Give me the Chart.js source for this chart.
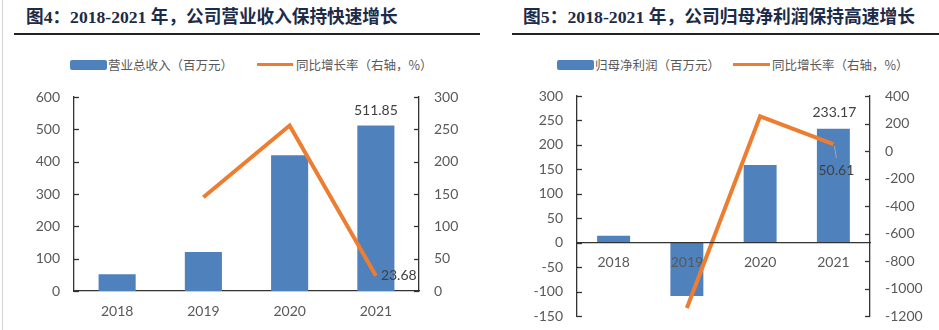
<!DOCTYPE html>
<html>
<head>
<meta charset="utf-8">
<script src="https://cdn.jsdelivr.net/npm/chart.js@4.4.1/dist/chart.umd.min.js"></script>
<style>
body{margin:0;width:939px;height:330px;position:relative;background:#fff;overflow:hidden;font-family:"Noto Sans CJK SC",sans-serif;}
.edge{position:absolute;left:2px;top:0;width:1px;height:330px;background:#d4d4d4;}
.title{position:absolute;top:4px;font-family:"Liberation Serif","Noto Sans CJK SC",serif;font-weight:bold;font-size:19px;color:#1c2b48;white-space:nowrap;line-height:26px;}
.rule{position:absolute;top:33px;height:2px;background:#222;}
.lg{position:absolute;top:57px;font-size:12.5px;color:#595959;line-height:16px;white-space:nowrap;}
.sw{position:absolute;}
canvas{position:absolute;top:80px;}
</style>
</head>
<body>
<div class="edge"></div>

<div class="title" id="t1" style="left:26px">图4：2018-2021 年，公司营业收入保持快速增长</div>
<div class="rule" style="left:14px;width:466px"></div>
<div class="title" id="t2" style="left:523px">图5：2018-2021 年，公司归母净利润保持高速增长</div>
<div class="rule" style="left:512px;width:427px"></div>

<!-- 图例 -->
<div class="sw" style="left:70px;top:60px;width:37px;height:10px;background:#4f81bd;border-radius:2px"></div>
<div class="lg" style="left:108px">营业总收入（百万元）</div>
<div class="sw" style="left:257px;top:63px;width:36px;height:3px;background:#ed7d31"></div>
<div class="lg" style="left:296px">同比增长率（右轴，%）</div>

<div class="sw" style="left:557px;top:60px;width:37px;height:10px;background:#4f81bd;border-radius:2px"></div>
<div class="lg" style="left:595px">归母净利润（百万元）</div>
<div class="sw" style="left:733px;top:63px;width:37px;height:3px;background:#ed7d31"></div>
<div class="lg" style="left:772px">同比增长率（右轴，%）</div>

<canvas id="c1" width="470" height="250" style="left:0"></canvas>
<canvas id="c2" width="469" height="250" style="left:470px"></canvas>

<script>
// --- DATI ---
const years = ['2018', '2019', '2020', '2021'];

const revenue = [52, 121, 420, 511.85];          // 营业总收入（百万元）
const revenueGrowth = [null, 145, 256, 23.68];   // 同比增长率 %
const revLeftTicks = [0, 100, 200, 300, 400, 500, 600];
const revRightTicks = [0, 50, 100, 150, 200, 250, 300];

const profit = [14, -109, 159, 233.17];          // 归母净利润（百万元）
const profitGrowth = [null, -1142, 252, 50.61];  // 同比增长率 %
const profLeftTicks = [-150, -100, -50, 0, 50, 100, 150, 200, 250, 300];
const profRightTicks = [-1200, -1000, -800, -600, -400, -200, 0, 200, 400];

const BLUE = '#4f81bd';
const ORANGE = '#ed7d31';
const AXIS = '#333333';
const TICK = '#595959';

Chart.defaults.font.family = 'Lato, "Noto Sans", sans-serif';
Chart.defaults.font.size = 14;
Chart.defaults.color = TICK;

// --- titoli: adatta la larghezza a quella del riferimento ---
function fitTitle(id, target) {
  const el = document.getElementById(id);
  const w = el.getBoundingClientRect().width;
  if (w > 0) el.style.fontSize = (19 * target / w).toFixed(2) + 'px';
}
fitTitle('t1', 372);
fitTitle('t2', 392);

// --- PLUGIN: tacche interne + etichette dati ---
const extras = {
  id: 'extras',
  afterDraw(chart, args, opts) {
    const ctx = chart.ctx;
    ctx.save();
    ctx.strokeStyle = AXIS;
    ctx.lineWidth = 1.3;
    ['y', 'y1'].forEach(id => {
      const s = chart.scales[id];
      const x = id === 'y' ? s.right : s.left;
      const dir = id === 'y' ? 1 : -1;
      s.ticks.forEach(t => {
        const y = Math.round(s.getPixelForValue(t.value)) + 0.5;
        ctx.beginPath();
        ctx.moveTo(x, y);
        ctx.lineTo(x + dir * 5, y);
        ctx.stroke();
      });
    });
    ctx.restore();

    (opts.labels || []).forEach(l => {
      const el = chart.getDatasetMeta(l.ds).data[l.i];
      const v = chart.data.datasets[l.ds].data[l.i];
      ctx.save();
      ctx.font = '14px Lato, sans-serif';
      ctx.fillStyle = '#404040';
      ctx.textAlign = l.align || 'center';
      ctx.textBaseline = 'middle';
      if (l.leader) {
        ctx.strokeStyle = '#a6a6a6';
        ctx.lineWidth = 1;
        ctx.beginPath();
        ctx.moveTo(el.x + 1, el.y + 2);
        ctx.lineTo(el.x + 3, el.y + 14);
        ctx.stroke();
      }
      ctx.fillText(v.toFixed(2), el.x + l.dx, el.y + l.dy);
      ctx.restore();
    });
  }
};

function setTicks(arr) {
  return s => { s.ticks = arr.map(v => ({value: v})); };
}

function yAxis(pos, ticks, width, pad) {
  return {
    position: pos,
    min: ticks[0],
    max: ticks[ticks.length - 1],
    afterBuildTicks: setTicks(ticks),
    afterFit: s => { s.width = width; s.paddingTop = 0; s.paddingBottom = 0; },
    grid: {display: false, drawTicks: false},
    border: {color: AXIS, width: 1.3},
    ticks: {color: TICK, padding: pad, font: {size: 14}, callback: v => String(v)}
  };
}

// --- GRAFICO 1: 营业总收入 ---
new Chart(document.getElementById('c1'), {
  data: {
    labels: years,
    datasets: [
      {type: 'line', data: revenueGrowth, yAxisID: 'y1', borderColor: ORANGE, borderWidth: 4,
       pointRadius: 0, tension: 0, order: 0},
      {type: 'bar', data: revenue, yAxisID: 'y', backgroundColor: BLUE,
       categoryPercentage: 1, barPercentage: 0.43, order: 1}
    ]
  },
  options: {
    responsive: false,
    animation: false,
    layout: {padding: {top: 17, left: 0, right: 0, bottom: 0}},
    plugins: {
      legend: {display: false},
      tooltip: {enabled: false},
      extras: {labels: [
        {ds: 1, i: 3, dx: 0, dy: -15},
        {ds: 0, i: 3, dx: 5, dy: 0, align: 'left'}
      ]}
    },
    scales: {
      x: {
        afterFit: s => { s.height = 39; s.paddingLeft = 0; s.paddingRight = 0; },
        grid: {display: false, drawTicks: false},
        border: {color: AXIS, width: 1.3},
        ticks: {color: TICK, padding: 12, font: {size: 14}}
      },
      y: yAxis('left', revLeftTicks, 74, 14),
      y1: yAxis('right', revRightTicks, 51, 15)
    }
  },
  plugins: [extras]
});

// --- GRAFICO 2: 归母净利润 ---
new Chart(document.getElementById('c2'), {
  data: {
    labels: years,
    datasets: [
      {type: 'line', data: profitGrowth, yAxisID: 'y1', borderColor: ORANGE, borderWidth: 4,
       pointRadius: 0, tension: 0, order: 0},
      {type: 'bar', data: profit, yAxisID: 'y', backgroundColor: BLUE,
       categoryPercentage: 1, barPercentage: 0.45, order: 1}
    ]
  },
  options: {
    responsive: false,
    animation: false,
    layout: {padding: {top: 16, left: 0, right: 0, bottom: 14}},
    plugins: {
      legend: {display: false},
      tooltip: {enabled: false},
      extras: {labels: [
        {ds: 1, i: 3, dx: 1, dy: -16},
        {ds: 0, i: 3, dx: 3, dy: 26, leader: true}
      ]}
    },
    scales: {
      x: {
        position: {y: 0},
        afterFit: s => { s.paddingLeft = 0; s.paddingRight = 0; },
        grid: {display: false, drawTicks: false},
        border: {color: AXIS, width: 1.3, z: 1},
        ticks: {color: TICK, padding: 11, font: {size: 14}, z: 1}
      },
      y: yAxis('left', profLeftTicks, 107, 14),
      y1: yAxis('right', profRightTicks, 69, 15)
    }
  },
  plugins: [extras]
});
</script>
</body>
</html>
